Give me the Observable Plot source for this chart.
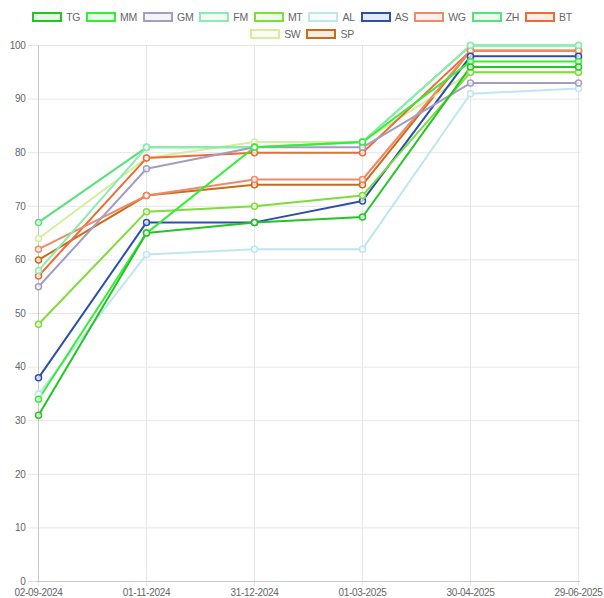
<!DOCTYPE html>
<html>
<head>
<meta charset="utf-8">
<script src="https://cdn.jsdelivr.net/npm/d3@7"></script>
<script src="https://cdn.jsdelivr.net/npm/@observablehq/plot@0.6"></script>
<style>
  html, body { margin: 0; padding: 0; background: #fff; }
  #legend { height: 40px; width: 604px; font-family: "Liberation Sans", Arial, sans-serif; font-size: 10.5px; letter-spacing: -0.3px; color: #666; }
  .row { display: flex; justify-content: center; height: 17px; align-items: center; }
  .row1 { padding-top: 8px; }
  .item { display: inline-flex; align-items: center; margin: 0 3px; }
  .box { width: 30px; height: 10px; box-sizing: border-box; border: 2px solid; margin-right: 4px; }
  #chart svg { overflow: visible; display: block; }
</style>
</head>
<body>
<div id="legend"></div>
<div id="chart"></div>
<script>
const dates = ["02-09-2024", "01-11-2024", "31-12-2024", "01-03-2025", "30-04-2025", "29-06-2025"];
const seriesNames = ["TG", "MM", "GM", "FM", "MT", "AL", "AS", "WG", "ZH", "BT", "SW", "SP"];
const seriesColors = ["#25c425", "#35ee35", "#a39ec0", "#8cebb0", "#7ddd3a", "#bfe6ee", "#2c50aa", "#ee8a68", "#58e27a", "#ee6a36", "#d5ee9c", "#cc6a18"];
const TG = [31, 65, 67, 68, 96, 96];
const MM = [34, 65, 81, 82, 97, 97];
const GM = [55, 77, 81, 81, 93, 93];
const FM = [58, 81, 81, 82, 100, 100];
const MT = [48, 69, 70, 72, 95, 95];
const AL = [35, 61, 62, 62, 91, 92];
const AS = [38, 67, 67, 71, 98, 98];
const WG = [62, 72, 75, 75, 99, 99];
const ZH = [67, 81, 81, 82, 100, 100];
const BT = [57, 79, 80, 80, 99, 99];
const SW = [64, 79, 82, 82, 95, 95];
const SP = [60, 72, 74, 74, 99, 99];
const yTicks = [0, 10, 20, 30, 40, 50, 60, 70, 80, 90, 100];

const seriesValues = {TG, MM, GM, FM, MT, AL, AS, WG, ZH, BT, SW, SP};
const rows = [];
seriesNames.forEach((name, i) => {
  seriesValues[name].forEach((v, j) => rows.push({series: name, date: dates[j], value: v, order: i}));
});
const drawRows = rows.slice().sort((a, b) => b.order - a.order);

// legend
const legend = document.getElementById("legend");
const rowsDef = [seriesNames.slice(0, 10), seriesNames.slice(10)];
rowsDef.forEach((names, r) => {
  const row = document.createElement("div");
  row.className = "row" + (r === 0 ? " row1" : "");
  names.forEach(n => {
    const c = seriesColors[seriesNames.indexOf(n)];
    const item = document.createElement("span");
    item.className = "item";
    const box = document.createElement("span");
    box.className = "box";
    box.style.borderColor = c;
    box.style.background = d3.color(c).copy({opacity: 0.12}).formatRgb();
    const t = document.createElement("span");
    t.textContent = n;
    item.appendChild(box); item.appendChild(t);
    row.appendChild(item);
  });
  legend.appendChild(row);
});

const font = '"Liberation Sans", Arial, sans-serif';
const chart = Plot.plot({
  width: 604,
  height: 558,
  marginTop: 5,
  marginBottom: 17,
  marginLeft: 36,
  marginRight: 24,
  style: {fontFamily: font, fontSize: "10px", letterSpacing: "-0.3px", color: "#666", background: "transparent"},
  x: {type: "point", domain: dates, padding: 0, label: null},
  y: {domain: [0, 100], label: null},
  color: {domain: seriesNames, range: seriesColors},
  marks: [
    Plot.ruleY(yTicks, {y: d => d, stroke: "#e6e6e6", strokeWidth: 1}),
    Plot.ruleX(dates, {x: d => d, stroke: "#e6e6e6", strokeWidth: 1}),
    Plot.axisY(yTicks, {tickSize: 8, tickPadding: 3, stroke: "#e6e6e6", fill: "#666", label: null}),
    Plot.axisX(dates, {tickSize: 5, tickPadding: 2, stroke: "#e6e6e6", fill: "#666", label: null}),
    Plot.ruleX([dates[0]], {x: d => d, stroke: "#c8c8c8"}),
    Plot.ruleY([0], {stroke: "#c8c8c8"}),
    Plot.line(drawRows, {x: "date", y: "value", z: "series", stroke: "series", strokeWidth: 2, curve: "linear"}),
    Plot.dot(drawRows, {x: "date", y: "value", stroke: "series", fill: "#fff", fillOpacity: 0.7, r: 3, strokeWidth: 1.5})
  ]
});
document.getElementById("chart").appendChild(chart);
</script>
</body>
</html>
